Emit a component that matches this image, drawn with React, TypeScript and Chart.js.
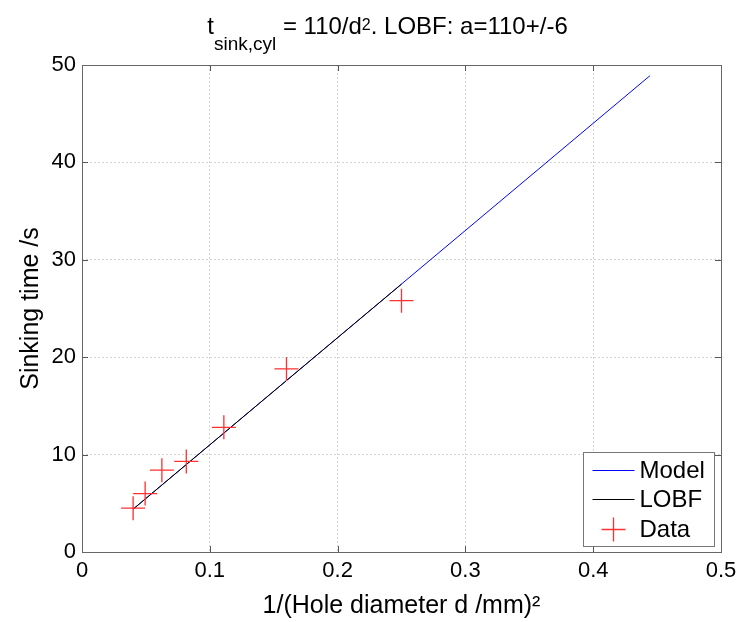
import React, { useEffect, useRef } from "react";
import { Chart, registerables } from "chart.js";

Chart.register(...registerables);

// ---- data ----
const dataX = [0.04, 0.0494, 0.0625, 0.0816, 0.111, 0.16, 0.25];
const dataY = [4.5, 6.0, 8.4, 9.3, 12.8, 18.8, 25.8];
const modelX = [0.04, 0.4444];
const modelY = [4.4, 48.9];
const lobfX = [0.04, 0.25];
const lobfY = [4.4, 27.5];
const xTicks = [0, 0.1, 0.2, 0.3, 0.4, 0.5];
const yTicks = [0, 10, 20, 30, 40, 50];
const seriesLabels = ["Model", "LOBF", "Data"];
const seriesColors = ["#0000ff", "#000000", "#ff3030"];
const xTitle = "1/(Hole diameter d /mm)\u00B2";
const yTitle = "Sinking time /s";
const titleParts = [
  { text: "t", kind: "main" },
  { text: "sink,cyl", kind: "sub" },
  { text: " = 110/d", kind: "main" },
  { text: "2", kind: "sup" },
  { text: ". LOBF: a=110+/-6", kind: "main" },
];

const FONT = "'Liberation Sans', Arial, Helvetica, sans-serif";

const framePlugin = {
  id: "matlabFrame",
  afterDraw(chart: any) {
    const { ctx, chartArea } = chart;
    const { left, right, top, bottom } = chartArea;
    const xs = chart.scales.x;
    const ys = chart.scales.y;
    ctx.save();
    // inner ticks
    ctx.strokeStyle = "#555";
    ctx.lineWidth = 1;
    ctx.beginPath();
    xTicks.forEach((v) => {
      const px = Math.round(xs.getPixelForValue(v)) + 0.5;
      ctx.moveTo(px, bottom);
      ctx.lineTo(px, bottom - 6);
      ctx.moveTo(px, top);
      ctx.lineTo(px, top + 6);
    });
    yTicks.forEach((v) => {
      const py = Math.round(ys.getPixelForValue(v)) + 0.5;
      ctx.moveTo(left, py);
      ctx.lineTo(left + 6, py);
      ctx.moveTo(right, py);
      ctx.lineTo(right - 6, py);
    });
    ctx.stroke();
    // box
    ctx.strokeStyle = "#666";
    ctx.strokeRect(Math.round(left) + 0.5, Math.round(top) + 0.5, Math.round(right - left), Math.round(bottom - top));

    // title
    const sizes: any = { main: 24, sub: 19, sup: 16 };
    const dys: any = { main: 0, sub: 16, sup: -4 };
    let total = 0;
    const widths = titleParts.map((p) => {
      ctx.font = `${sizes[p.kind]}px ${FONT}`;
      const w = ctx.measureText(p.text).width;
      total += w;
      return w;
    });
    let x = (left + right) / 2 - 14 - total / 2;
    const baseY = 34;
    ctx.fillStyle = "#000";
    ctx.textBaseline = "alphabetic";
    ctx.textAlign = "left";
    titleParts.forEach((p, i) => {
      ctx.font = `${sizes[p.kind]}px ${FONT}`;
      ctx.fillText(p.text, x, baseY + dys[p.kind]);
      x += widths[i];
    });

    // legend
    const bx = Math.round(right - 138) + 0.5;
    const by = Math.round(bottom - 100) + 0.5;
    const bw = 131;
    const bh = 94;
    ctx.fillStyle = "#fff";
    ctx.fillRect(bx, by, bw, bh);
    ctx.strokeStyle = "#777";
    ctx.strokeRect(bx, by, bw, bh);
    ctx.font = `24px ${FONT}`;
    ctx.textBaseline = "middle";
    seriesLabels.forEach((lab, i) => {
      const cy = Math.round(by + 17 + i * 29.5) + 0.5;
      ctx.strokeStyle = seriesColors[i];
      ctx.lineWidth = i < 2 ? 1 : 1.3;
      ctx.beginPath();
      if (i < 2) {
        ctx.moveTo(bx + 9, cy);
        ctx.lineTo(bx + 51, cy);
      } else {
        const cx = bx + 30;
        ctx.moveTo(cx - 12, cy);
        ctx.lineTo(cx + 12, cy);
        ctx.moveTo(cx, cy - 12);
        ctx.lineTo(cx, cy + 12);
      }
      ctx.stroke();
      ctx.fillStyle = "#000";
      ctx.fillText(lab, bx + 56, cy + 1);
    });
    ctx.restore();
  },
};

export default function App() {
  const ref = useRef<HTMLCanvasElement | null>(null);
  useEffect(() => {
    if (!ref.current) return;
    const chart = new Chart(ref.current, {
      type: "scatter",
      data: {
        datasets: [
          {
            label: seriesLabels[0],
            data: modelX.map((x, i) => ({ x, y: modelY[i] })),
            showLine: true,
            borderColor: seriesColors[0],
            borderWidth: 1,
            pointRadius: 0,
            order: 2,
          },
          {
            label: seriesLabels[1],
            data: lobfX.map((x, i) => ({ x, y: lobfY[i] })),
            showLine: true,
            borderColor: seriesColors[1],
            borderWidth: 1,
            pointRadius: 0,
            order: 1,
          },
          {
            label: seriesLabels[2],
            data: dataX.map((x, i) => ({ x, y: dataY[i] })),
            showLine: false,
            pointStyle: "cross",
            pointRadius: 12,
            borderColor: seriesColors[2],
            backgroundColor: seriesColors[2],
            borderWidth: 1.3,
            order: 0,
          },
        ],
      },
      options: {
        responsive: false,
        animation: false,
        events: [],
        layout: { padding: { top: 65, right: 32, left: 0, bottom: 0 } },
        plugins: {
          legend: { display: false },
          tooltip: { enabled: false },
          title: { display: false },
        },
        scales: {
          x: {
            type: "linear",
            min: 0,
            max: 0.5,
            afterBuildTicks: (s: any) => {
              s.ticks = xTicks.map((v) => ({ value: v }));
            },
            afterFit: (s: any) => {
              s.height = 70;
            },
            ticks: {
              font: { family: FONT, size: 22 },
              color: "#000",
              padding: 6,
              maxRotation: 0,
              callback: (v: any) => String(v),
            },
            grid: { color: "#d4d4d4", drawTicks: false, lineWidth: 1 },
            border: { display: false, dash: [2, 2] },
            title: {
              display: true,
              text: xTitle,
              font: { family: FONT, size: 25 },
              color: "#000",
              padding: { top: 0, bottom: 1 },
            },
          },
          y: {
            type: "linear",
            min: 0,
            max: 50,
            afterBuildTicks: (s: any) => {
              s.ticks = yTicks.map((v) => ({ value: v }));
            },
            afterFit: (s: any) => {
              s.width = 82;
            },
            ticks: {
              font: { family: FONT, size: 22 },
              color: "#000",
              padding: 6,
              callback: (v: any) => String(v),
            },
            grid: { color: "#d4d4d4", drawTicks: false, lineWidth: 1 },
            border: { display: false, dash: [2, 2] },
            title: {
              display: true,
              text: yTitle,
              font: { family: FONT, size: 25 },
              color: "#000",
              padding: { top: 16, bottom: 0 },
            },
          },
        },
      },
      plugins: [framePlugin],
    } as any);
    return () => chart.destroy();
  }, []);
  return (
    <div style={{ position: "absolute", left: 0, top: 0, width: 753, height: 622, background: "#fff" }}>
      <canvas ref={ref} width={753} height={622} style={{ width: 753, height: 622, display: "block" }} />
    </div>
  );
}
